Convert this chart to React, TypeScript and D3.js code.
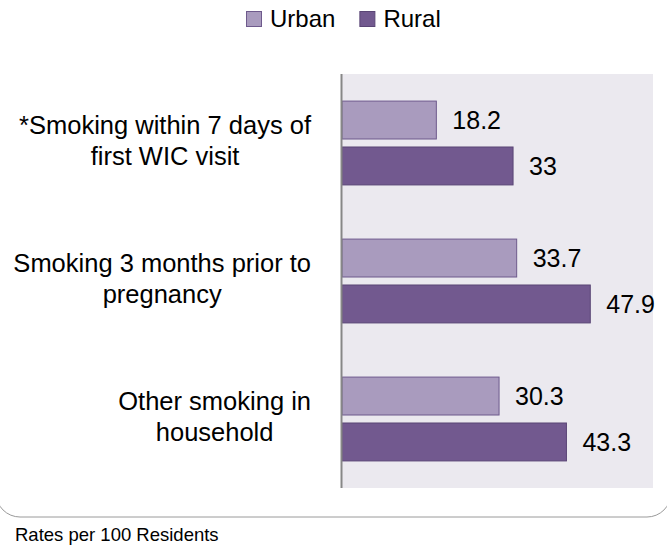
import { useEffect, useRef } from "react";
import * as d3 from "d3";

const categoryLines = [
  ["*Smoking within 7 days of", "first WIC visit"],
  ["Smoking 3 months prior to", "pregnancy"],
  ["Other smoking in", "household"],
];
const seriesNames = ["Urban", "Rural"];
const urbanValues = [18.2, 33.7, 30.3];
const ruralValues = [33, 47.9, 43.3];
const footnote = "Rates per 100 Residents";

const fills: Record<string, string> = { Urban: "#A99BBE", Rural: "#72598F" };
const strokes: Record<string, string> = { Urban: "#6E5A8C", Rural: "#5A4575" };
const FONT = "'Liberation Sans', Arial, sans-serif";

const App = () => {
  const chartRef = useRef<SVGSVGElement>(null);
  const width = 667;
  const height = 548;

  useEffect(() => {
    if (!chartRef.current) return;
    const svg = d3.select(chartRef.current);

    const rows = categoryLines.map((lines, i) => ({
      id: String(i),
      lines,
      values: { Urban: urbanValues[i], Rural: ruralValues[i] } as Record<string, number>,
    }));

    const x = d3.scaleLinear().domain([0, 60]).range([342, 653]);
    const y0 = d3
      .scaleBand()
      .domain(rows.map((d) => d.id))
      .range([74, 488])
      .padding(0);
    const y1 = d3
      .scaleBand()
      .domain(seriesNames)
      .range([0, y0.bandwidth()])
      .paddingInner(0.174)
      .paddingOuter(0.59);

    // outer rounded frame, only the bottom shows
    svg
      .append("rect")
      .attr("x", -4)
      .attr("y", -60)
      .attr("width", width + 8)
      .attr("height", 577)
      .attr("rx", 24)
      .attr("fill", "none")
      .attr("stroke", "#9a9a9a")
      .attr("stroke-width", 1);

    // plot background
    svg
      .append("rect")
      .attr("x", x(0))
      .attr("y", 74)
      .attr("width", x(60) - x(0))
      .attr("height", 488 - 74)
      .attr("fill", "#EBE9EF");

    const groups = svg
      .selectAll("g.cat")
      .data(rows)
      .enter()
      .append("g")
      .attr("class", "cat")
      .attr("transform", (d) => `translate(0,${y0(d.id)})`);

    groups
      .selectAll("rect")
      .data((d) => seriesNames.map((s) => ({ s, v: d.values[s] })))
      .enter()
      .append("rect")
      .attr("x", x(0))
      .attr("y", (d) => y1(d.s)!)
      .attr("width", (d) => x(d.v) - x(0))
      .attr("height", y1.bandwidth())
      .attr("fill", (d) => fills[d.s])
      .attr("stroke", (d) => strokes[d.s])
      .attr("stroke-width", 1);

    groups
      .selectAll("text.val")
      .data((d) => seriesNames.map((s) => ({ s, v: d.values[s] })))
      .enter()
      .append("text")
      .attr("class", "val")
      .attr("x", (d) => x(d.v) + 16)
      .attr("y", (d) => y1(d.s)! + y1.bandwidth() / 2)
      .attr("dy", "0.35em")
      .attr("font-family", FONT)
      .attr("font-size", "25px")
      .attr("fill", "#000")
      .text((d) => String(d.v));

    // axis line
    svg
      .append("line")
      .attr("x1", x(0) - 0.5)
      .attr("x2", x(0) - 0.5)
      .attr("y1", 74)
      .attr("y2", 488)
      .attr("stroke", "#878787")
      .attr("stroke-width", 2);

    // category labels: lines centered, block right-aligned
    const rightEdge = 311;
    rows.forEach((d) => {
      const cy = y0(d.id)! + y0.bandwidth() / 2;
      const g = svg.append("g");
      const texts = g
        .selectAll("text")
        .data(d.lines)
        .enter()
        .append("text")
        .attr("x", 0)
        .attr("y", (_, i) => cy - 9 + i * 31)
        .attr("text-anchor", "middle")
        .attr("font-family", FONT)
        .attr("font-size", "25.5px")
        .attr("fill", "#000")
        .text((t) => t);
      let maxW = 0;
      texts.each(function () {
        maxW = Math.max(maxW, (this as SVGTextElement).getComputedTextLength());
      });
      g.attr("transform", `translate(${rightEdge - maxW / 2},0)`);
    });

    // legend
    const legend = svg.append("g").attr("transform", "translate(246,0)");
    let lx = 0;
    seriesNames.forEach((s) => {
      legend
        .append("rect")
        .attr("x", lx + 0.5)
        .attr("y", 11.5)
        .attr("width", 15)
        .attr("height", 15)
        .attr("fill", fills[s])
        .attr("stroke", strokes[s]);
      const t = legend
        .append("text")
        .attr("x", lx + 24)
        .attr("y", 27)
        .attr("font-family", FONT)
        .attr("font-size", "24px")
        .attr("fill", "#000")
        .text(s);
      lx += 24 + (t.node() as SVGTextElement).getComputedTextLength() + 24;
    });

    svg
      .append("text")
      .attr("x", 15)
      .attr("y", 541)
      .attr("font-family", FONT)
      .attr("font-size", "18.5px")
      .attr("fill", "#000")
      .text(footnote);

    return () => {
      svg.selectAll("*").remove();
    };
  }, []);

  return (
    <svg
      ref={chartRef}
      width={width}
      height={height}
      style={{ position: "absolute", left: 0, top: 0, background: "#fff" }}
    />
  );
};

export default App;
